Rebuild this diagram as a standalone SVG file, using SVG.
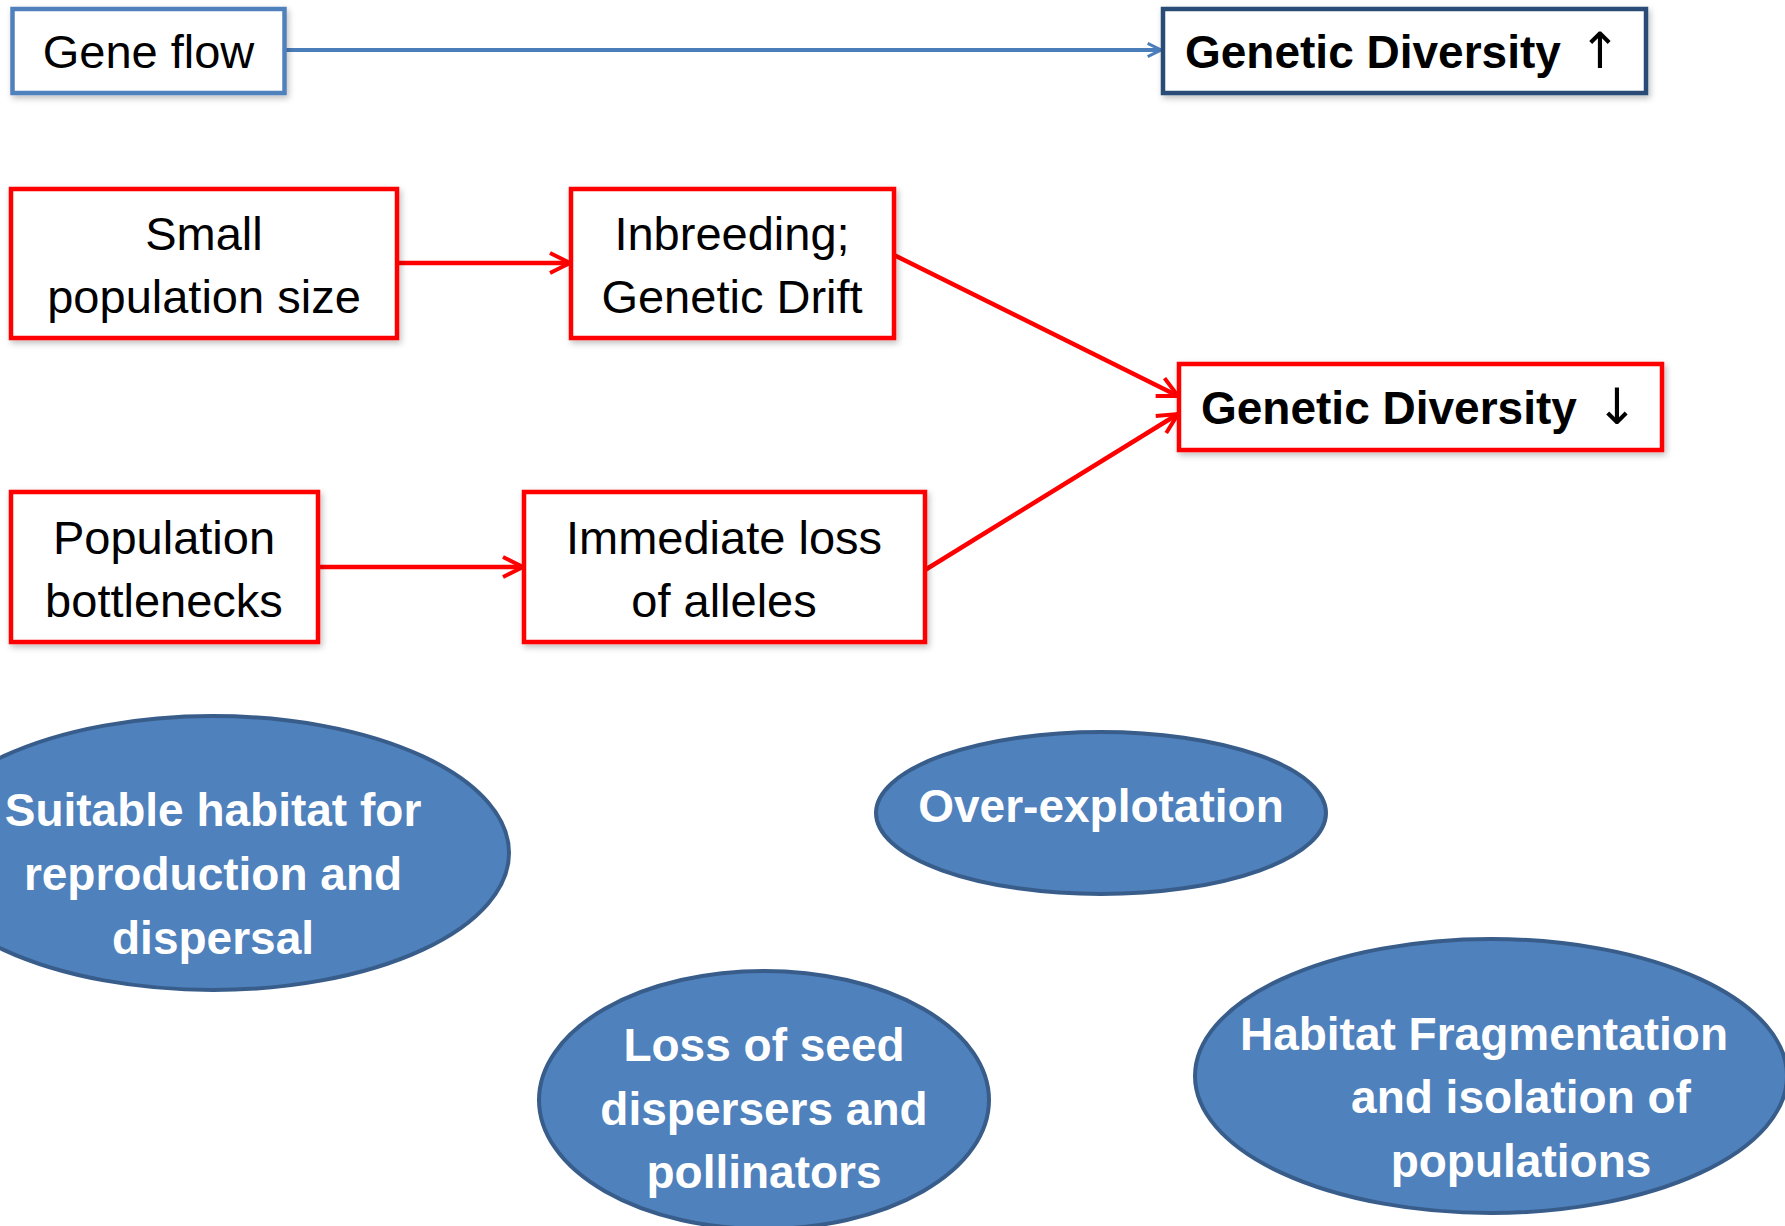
<svg xmlns="http://www.w3.org/2000/svg" width="1785" height="1226" viewBox="0 0 1785 1226">
<style>
.box{fill:#fff;stroke-width:4.5;filter:url(#sh)}
.red{stroke:#FF0000}
.t{font-family:"Liberation Sans",Arial,sans-serif;font-size:47px;fill:#000;text-anchor:middle}
.b{font-family:"Liberation Sans",Arial,sans-serif;font-size:46px;font-weight:bold;fill:#000}
.ell{fill:#4F81BD;stroke:#385D8A;stroke-width:4}
.et{font-family:"Liberation Sans",Arial,sans-serif;font-size:46px;font-weight:bold;fill:#fff;text-anchor:middle}
.ar{font-weight:normal;font-family:"DejaVu Sans",sans-serif;font-size:50px}
</style>
<defs>
<filter id="sh" x="-10%" y="-20%" width="120%" height="150%">
<feGaussianBlur in="SourceAlpha" stdDeviation="3"/>
<feOffset dx="2" dy="3" result="o"/>
<feFlood flood-color="#000" flood-opacity="0.25"/>
<feComposite in2="o" operator="in"/>
<feMerge><feMergeNode/><feMergeNode in="SourceGraphic"/></feMerge>
</filter>
<marker id="ma" viewBox="0 0 12 12" refX="11" refY="6" markerWidth="16" markerHeight="16" markerUnits="userSpaceOnUse" orient="auto">
<path d="M1,1 L11,6 L1,11" fill="none" stroke="#4A7EBB" stroke-width="2.2"/>
</marker>
<marker id="mr" viewBox="0 0 12 12" refX="11" refY="6" markerWidth="24" markerHeight="24" markerUnits="userSpaceOnUse" orient="auto">
<path d="M1,1 L11,6 L1,11" fill="none" stroke="#FF0000" stroke-width="2"/>
</marker>
</defs>
<rect width="1785" height="1226" fill="#fff"/>
<g id="connectors">
<line x1="285" y1="50" x2="1161" y2="50" stroke="#4A7EBB" stroke-width="4" marker-end="url(#ma)"/>
<line x1="397" y1="263" x2="570" y2="263" stroke="#FF0000" stroke-width="4.5" marker-end="url(#mr)"/>
<line x1="318" y1="567" x2="523" y2="567" stroke="#FF0000" stroke-width="4.5" marker-end="url(#mr)"/>
<line x1="894" y1="255" x2="1178" y2="396" stroke="#FF0000" stroke-width="4.5" marker-end="url(#mr)"/>
<line x1="925" y1="570" x2="1178" y2="414" stroke="#FF0000" stroke-width="4.5" marker-end="url(#mr)"/>
</g>
<g id="gene-flow">
<rect class="box" x="12.5" y="9" width="272" height="84" stroke="#4F81BD"/>
<text class="t" x="148.5" y="68">Gene flow</text>
</g>
<g id="gd-up">
<rect class="box" x="1163" y="9" width="483" height="84" stroke="#2B4B74"/>
<text class="b" x="1185" y="68">Genetic Diversity</text>
<text class="b ar" x="1600" y="68" text-anchor="middle">↑</text>
</g>
<g id="small-pop">
<rect class="box red" x="11" y="189" width="386" height="149"/>
<text class="t" x="204" y="250">Small</text>
<text class="t" x="204" y="313">population size</text>
</g>
<g id="inbreeding">
<rect class="box red" x="571" y="189" width="323" height="149"/>
<text class="t" x="732" y="250">Inbreeding;</text>
<text class="t" x="732" y="313">Genetic Drift</text>
</g>
<g id="bottlenecks">
<rect class="box red" x="11" y="492" width="307" height="150"/>
<text class="t" x="164" y="554">Population</text>
<text class="t" x="164" y="617">bottlenecks</text>
</g>
<g id="immediate-loss">
<rect class="box red" x="524" y="492" width="401" height="150"/>
<text class="t" x="724" y="554">Immediate loss</text>
<text class="t" x="724" y="617">of alleles</text>
</g>
<g id="gd-down">
<rect class="box red" x="1179" y="364" width="483" height="86"/>
<text class="b" x="1201" y="424">Genetic Diversity</text>
<text class="b ar" x="1617" y="424" text-anchor="middle">↓</text>
</g>
<g id="suitable-habitat">
<ellipse class="ell" cx="213" cy="853" rx="296" ry="137"/>
<text class="et" x="213" y="826">Suitable habitat for</text>
<text class="et" x="213" y="890">reproduction and</text>
<text class="et" x="213" y="954">dispersal</text>
</g>
<g id="over-exploitation">
<ellipse class="ell" cx="1101" cy="813" rx="225" ry="81"/>
<text class="et" x="1101" y="822">Over-explotation</text>
</g>
<g id="loss-seed">
<ellipse class="ell" cx="764" cy="1100" rx="225" ry="129"/>
<text class="et" x="764" y="1061">Loss of seed</text>
<text class="et" x="764" y="1125">dispersers and</text>
<text class="et" x="764" y="1188">pollinators</text>
</g>
<g id="habitat-frag">
<ellipse class="ell" cx="1491" cy="1076" rx="296" ry="137"/>
<text class="et" x="1484" y="1050">Habitat Fragmentation</text>
<text class="et" x="1521" y="1113">and isolation of</text>
<text class="et" x="1521" y="1177">populations</text>
</g>
</svg>
